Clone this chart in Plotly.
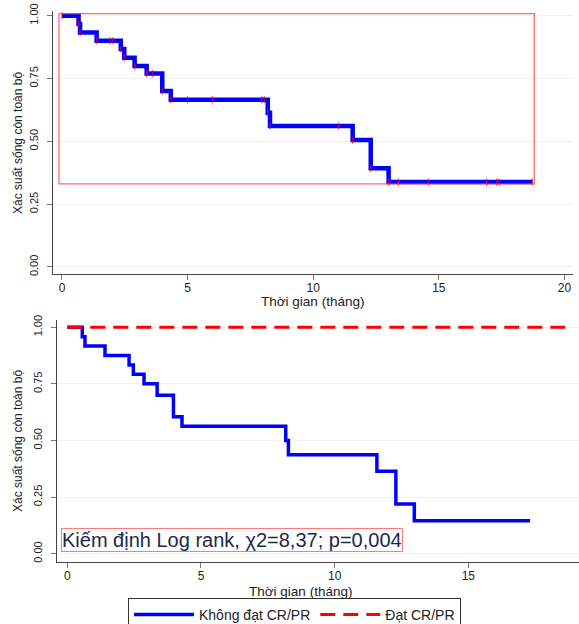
import plotly.graph_objects as go

# ---------------- data ----------------
# Top panel: overall Kaplan-Meier curve (step times and survival after each step)
top_times = [0, 0.66, 0.72, 1.38, 2.34, 2.48, 2.89, 3.37, 3.99, 4.33, 8.19, 8.28, 11.57, 12.29, 13.0, 18.72]
top_surv = [1.0, 0.967, 0.933, 0.900, 0.867, 0.833, 0.800, 0.770, 0.700, 0.666, 0.614, 0.561, 0.505, 0.393, 0.338, 0.338]
# censor / event tick marks drawn on the top curve
top_marks_t = [0, 0.66, 0.72, 1.38, 1.91, 2.03, 2.34, 2.48, 2.89, 3.37, 3.60, 3.99, 4.33, 5.0, 5.98,
               7.95, 8.05, 8.19, 8.28, 11.0, 11.57, 12.29, 13.0, 13.39, 14.58, 16.9, 17.3, 17.4, 18.72]

# Bottom panel: two groups
grp_names = ["Không đạt CR/PR", "Đạt CR/PR"]
no_times = [0, 0.56, 0.66, 1.41, 2.31, 2.47, 2.87, 3.36, 3.97, 4.29, 8.17, 8.27, 11.58, 12.29, 12.98, 17.31]
no_surv = [1.0, 0.958, 0.917, 0.875, 0.833, 0.792, 0.750, 0.700, 0.605, 0.563, 0.500, 0.437, 0.364, 0.219, 0.146, 0.146]
yes_times = [0, 18.7]
yes_surv = [1.0, 1.0]

y_ticks = [0, 0.25, 0.5, 0.75, 1.0]
y_ticklabels = ["0.00", "0.25", "0.50", "0.75", "1.00"]
x_ticks = [0, 5, 10, 15, 20]

y_title = "Xác suất sống còn toàn bộ"
x_title = "Thời gian (tháng)"
test_text = "Kiếm định Log rank, χ2=8,37; p=0,004"

# ---------------- figure ----------------
W, H = 579, 624
def px(x):
    return x / W
def py(y):
    return 1 - y / H

FONT = "Liberation Sans, Arial, sans-serif"
fig = go.Figure()

# top curve
fig.add_trace(go.Scatter(x=top_times, y=top_surv, mode="lines", line=dict(shape="hv", color="#0000ff", width=4.5),
                         xaxis="x", yaxis="y", showlegend=False, hoverinfo="skip"))

def surv_at(t):
    s = top_surv[0]
    for tt, ss in zip(top_times, top_surv):
        if tt <= t:
            s = ss
    return s

fig.add_trace(go.Scatter(x=top_marks_t, y=[surv_at(t) for t in top_marks_t], mode="markers",
                         marker=dict(symbol="line-ns", size=5, line=dict(color="rgba(230,0,60,0.8)", width=1.2)),
                         xaxis="x", yaxis="y", showlegend=False, hoverinfo="skip"))

# bottom curves
fig.add_trace(go.Scatter(x=no_times, y=no_surv, mode="lines", name=grp_names[0],
                         line=dict(shape="hv", color="#0000ff", width=3.5), xaxis="x2", yaxis="y2"))
fig.add_trace(go.Scatter(x=yes_times, y=yes_surv, mode="lines", name=grp_names[1],
                         line=dict(shape="hv", color="#ff0000", width=3, dash="15px,8px"), xaxis="x2", yaxis="y2"))

# red rectangle around the top curve
fig.add_shape(type="rect", xref="x", yref="y", x0=-0.12, x1=max(top_times) + 0.08,
              y0=min(top_surv) - 0.007, y1=1.008, line=dict(color="rgba(255,60,60,0.75)", width=1.3))

axis_common = dict(showline=True, linecolor="#444", linewidth=1.3, ticks="outside", ticklen=5, tickcolor="#777",
                   zeroline=False, automargin=False)
xfont = dict(family=FONT, size=12, color="#222")
yfont = dict(family=FONT, size=11, color="#222")

fig.update_layout(
    width=W, height=H, margin=dict(l=0, r=0, t=0, b=0, autoexpand=False),
    paper_bgcolor="white", plot_bgcolor="white",
    xaxis=dict(domain=[px(53), px(573)], range=[-0.358, 20.34], tickvals=x_ticks, showgrid=False,
               anchor="y", tickfont=xfont, ticklabelstandoff=-3, **axis_common),
    yaxis=dict(domain=[py(274), py(11)], range=[-0.0279, 1.0187], tickvals=y_ticks, ticktext=y_ticklabels,
               tickangle=-90, ticklabelstandoff=4, showgrid=True, gridcolor="#edf2f5", gridwidth=1, anchor="x",
               tickfont=yfont, **axis_common),
    xaxis2=dict(domain=[px(56.7), 1.0], range=[-0.397, 19.14], tickvals=x_ticks[:4], showgrid=False,
                anchor="y2", tickfont=xfont, ticklabelstandoff=-2, **axis_common),
    yaxis2=dict(domain=[py(561.7), py(320)], range=[-0.0353, 1.032], tickvals=y_ticks, ticktext=y_ticklabels,
                tickangle=-90, ticklabelstandoff=4, showgrid=True, gridcolor="#edf2f5", gridwidth=1, anchor="x2",
                tickfont=yfont, **axis_common),
    legend=dict(orientation="h", x=px(128), y=py(598), xanchor="left", yanchor="top",
                bordercolor="#333", borderwidth=1, font=dict(family=FONT, size=14, color="#222"),
                itemwidth=60),
)

annos = [
    dict(text=y_title, x=px(18), y=py(143), textangle=-90, size=12),
    dict(text=y_title, x=px(18), y=py(441), textangle=-90, size=12),
    dict(text=x_title, x=px(312), y=py(301.5), size=13.5),
    dict(text=x_title, x=px(300), y=py(591), size=13.5),
]
for a in annos:
    sz = a.pop("size")
    fig.add_annotation(xref="paper", yref="paper", showarrow=False, xanchor="center", yanchor="middle",
                       font=dict(family=FONT, size=sz, color="#222"), **a)

fig.add_annotation(xref="paper", yref="paper", x=px(61), y=py(539.7), xanchor="left", yanchor="middle",
                   text=test_text, showarrow=False, bordercolor="rgba(255,90,90,0.8)", borderwidth=1, borderpad=0,
                   bgcolor="white", font=dict(family=FONT, size=20, color="#1c2a48"))

fig.write_html("out.html", config={"displayModeBar": False},
               post_script="document.body.style.margin='0';")
